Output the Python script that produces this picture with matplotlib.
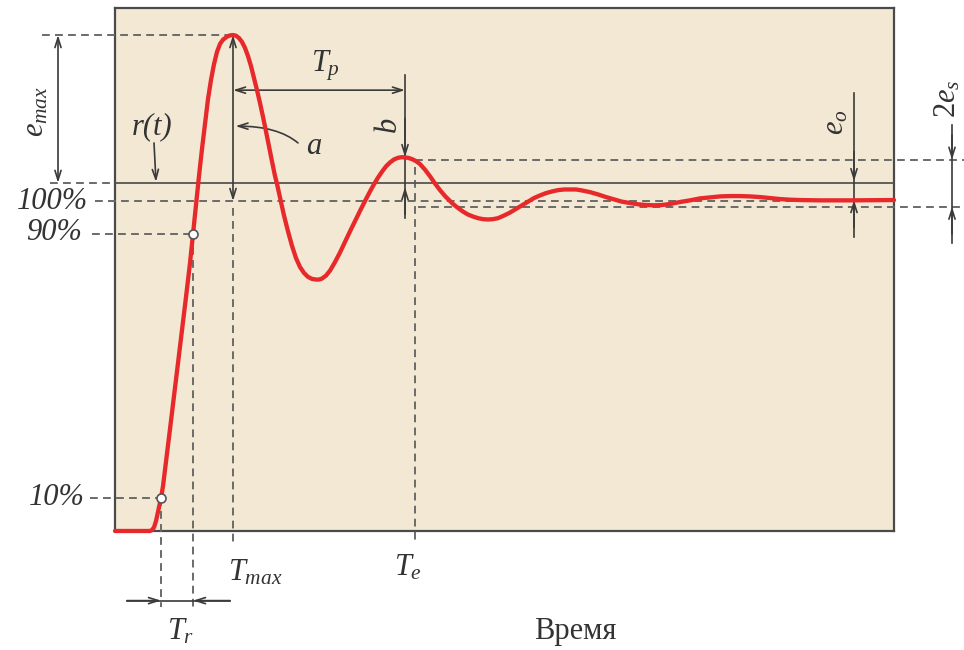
import matplotlib
matplotlib.use("Agg")
import matplotlib.pyplot as plt

plt.rcParams["mathtext.fontset"] = "custom"
plt.rcParams["mathtext.it"] = "Liberation Serif:italic"
plt.rcParams["mathtext.rm"] = "Liberation Serif"
plt.rcParams["mathtext.default"] = "it"

# Step response: time (arbitrary units) and output (% of final value)
time = [0, 35, 37, 39, 41, 43, 45, 46, 48, 51,
        55, 59, 63, 67, 71, 75, 78, 81, 84, 87,
        90, 93, 96, 99, 102, 105, 108, 112, 115, 118,
        121, 124, 127, 130, 133, 136, 139, 142, 145, 148,
        151, 154, 157, 160, 162, 164, 166, 169, 173, 177,
        181, 185, 189, 193, 197, 201, 204, 207, 211, 215,
        220, 225, 230, 235, 240, 245, 250, 255, 259, 263,
        267, 271, 275, 279, 283, 287, 290, 293, 297, 301,
        305, 310, 315, 320, 325, 330, 334, 338, 343, 348,
        353, 358, 363, 368, 373, 378, 383, 389, 395, 401,
        407, 413, 419, 425, 431, 437, 443, 449, 455, 461,
        467, 475, 483, 491, 499, 507, 515, 523, 531, 539,
        547, 555, 565, 575, 585, 595, 605, 615, 625, 635,
        645, 655, 665, 675, 685, 705, 735, 779]
response = [0, 0, 0.3, 1.1, 3.0, 5.8, 8.5, 10, 13.6, 20.9,
            30.9, 40.9, 50.9, 60.9, 70.9, 81.2, 90, 98.8, 107.6, 115.8,
            123.3, 130.9, 136.7, 141.5, 145.2, 147.6, 148.9, 149.8, 150.2, 150.3,
            150.1, 149.4, 148.2, 146.4, 143.9, 140.9, 137.3, 133.6, 129.7, 125.5,
            121.1, 116.5, 112.0, 107.6, 105.2, 102.4, 99.7, 95.6, 90.8, 86.4,
            82.7, 80.0, 78.2, 77.0, 76.4, 76.2, 76.2, 76.5, 77.4, 78.9,
            81.5, 84.4, 87.6, 90.8, 93.9, 97.0, 100, 102.9, 105.1, 107.1,
            108.9, 110.5, 111.7, 112.6, 113.1, 113.3, 113.2, 113.1, 112.7, 112.1,
            111.2, 109.5, 107.5, 105.3, 103.3, 101.5, 100.3, 99.1, 97.9, 96.8,
            95.9, 95.3, 94.8, 94.5, 94.4, 94.5, 94.8, 95.6, 96.5, 97.6,
            98.7, 99.8, 100.9, 101.7, 102.4, 102.9, 103.3, 103.5, 103.5, 103.5,
            103.2, 102.7, 102.0, 101.2, 100.5, 99.8, 99.4, 99.0, 98.8, 98.7,
            98.8, 99.1, 99.7, 100.2, 100.8, 101.1, 101.4, 101.5, 101.5, 101.4,
            101.2, 100.9, 100.6, 100.4, 100.3, 100.2, 100.2, 100.3]

# Characteristic levels (%) and instants
level_10 = 10
level_90 = 90
level_100 = 100
ref_level = 105.5          # r(t)
peak_value = 150.3         # e_max reached at T_max
second_peak = 113.3
band_upper = 112.5
band_lower = 98.3
t_10 = 46
t_90 = 78
t_max = 118
t_second = 290
t_e = 300

INK = "#3a3a3a"
DASH = "#6a6a6a"
RED = "#e8292b"
BEIGE = "#f3e8d4"

fig = plt.figure(figsize=(9.64, 6.5), dpi=100)
ax = fig.add_axes([0.1193, 0.1831, 0.8081, 0.8046])
ax.set_facecolor(BEIGE)
ax.set_xlim(0, 779)
ax.set_ylim(0, 158.5)
ax.set_xticks([])
ax.set_yticks([])
for s in ax.spines.values():
    s.set_color("#4a4a4a")
    s.set_linewidth(1.6)
    s.set_zorder(2)

dash_kw = dict(color=DASH, lw=1.4, linestyle=(0, (4, 2.7)), clip_on=False, zorder=3)


def hdash(y, x0, x1):
    ax.plot([x0, x1], [y, y], **dash_kw)


def vdash(x, y0, y1):
    ax.plot([x, x], [y0, y1], **dash_kw)


def arrow(x0, y0, x1, y1, style="->", **extra):
    ax.annotate("", xy=(x1, y1), xytext=(x0, y0), annotation_clip=False,
                arrowprops=dict(arrowstyle=style + ",head_length=0.7,head_width=0.22",
                                color=INK, lw=1.2, shrinkA=0, shrinkB=0, **extra),
                zorder=4)


def line(xs, ys):
    ax.plot(xs, ys, color=INK, lw=1.2, clip_on=False, zorder=4)


# Dashed guide lines
hdash(peak_value, -73, t_max)
hdash(ref_level, -65, 0)
hdash(level_100, -20, 779)
hdash(level_90, -23, t_90)
hdash(level_10, -25, t_10)
hdash(band_upper, t_e, 849)
hdash(band_lower, t_e + 3, 849)
vdash(t_10, level_10, -23)
vdash(t_90, level_90, -23)
vdash(t_max, level_100 - 2, -3.3)
vdash(t_e, 110.3, -2.7)

# Reference r(t)
ax.plot([0, 779], [ref_level, ref_level], color="#555555", lw=1.3, zorder=3)

# e_max
arrow(-57, ref_level, -57, peak_value, style="<->")
# T_max to peak
arrow(t_max, level_100, t_max, peak_value, style="<->")
# T_p
arrow(t_max, 133.6, t_second, 133.6, style="<->")
# r(t) pointer
arrow(39, 117.6, 41, ref_level + 0.3)
# a pointer
arrow(183, 117.6, t_max + 2.5, 122.7,
      connectionstyle="angle3,angleA=140,angleB=0")
# b
line([t_second, t_second], [138.2, 94.8])
arrow(t_second, 125, t_second, second_peak)
arrow(t_second, 96, t_second, 104.2)
# e_o
line([739, 739], [132.7, 89.1])
arrow(739, 115, 739, 106)
arrow(739, 92, 739, 100.3)
# 2e_s
line([837, 837], [123, 87.3])
arrow(837, 120, 837, band_upper)
arrow(837, 90, 837, band_lower)
# T_r
line([12, 115], [-21.1, -21.1])
arrow(12, -21.1, t_10, -21.1)
arrow(115, -21.1, t_90, -21.1)

# Response curve
ax.plot(time, response, color=RED, lw=3.1, solid_capstyle="round",
        solid_joinstyle="round", clip_on=False, zorder=5)
ax.plot([t_10, t_90], [level_10, level_90], linestyle="none", marker="o",
        markersize=6.5, markerfacecolor="white", markeredgecolor="#555555",
        markeredgewidth=1.2, clip_on=False, zorder=6)

# Labels
txt = dict(color="#333333", family="Liberation Serif", style="italic",
           fontsize=22, clip_on=False)
ax.text(-27, level_100, "100%", ha="right", va="center", **txt)
ax.text(-33, level_90 + 0.5, "90%", ha="right", va="center", **txt)
ax.text(-30, level_10, "10%", ha="right", va="center", **txt)
ax.text(-79, 127, r"$e_{max}$", ha="center", va="center", rotation=90, **txt)
ax.text(37, 122.4, "r(t)", ha="center", va="center", **txt)
ax.text(210, 140.9, r"$T_p$", ha="center", va="center", **txt)
ax.text(199, 116.4, r"$a$", ha="center", va="center", **txt)
ax.text(274, 122.7, r"$b$", ha="center", va="center", rotation=90, **txt)
ax.text(721, 124, r"$e_o$", ha="center", va="center", rotation=90, **txt)
ax.text(833, 131, r"$2e_s$", ha="center", va="center", rotation=90, **txt)
ax.text(140, -12.7, r"$T_{max}$", ha="center", va="center", **txt)
ax.text(293, -11.2, r"$T_e$", ha="center", va="center", **txt)
ax.text(66, -30.6, r"$T_r$", ha="center", va="center", **txt)
ax.text(460, -30.6, "Время", ha="center", va="center", color="#333333",
        family="Liberation Serif", fontsize=22, clip_on=False)

fig.savefig("out.png", dpi=100)
